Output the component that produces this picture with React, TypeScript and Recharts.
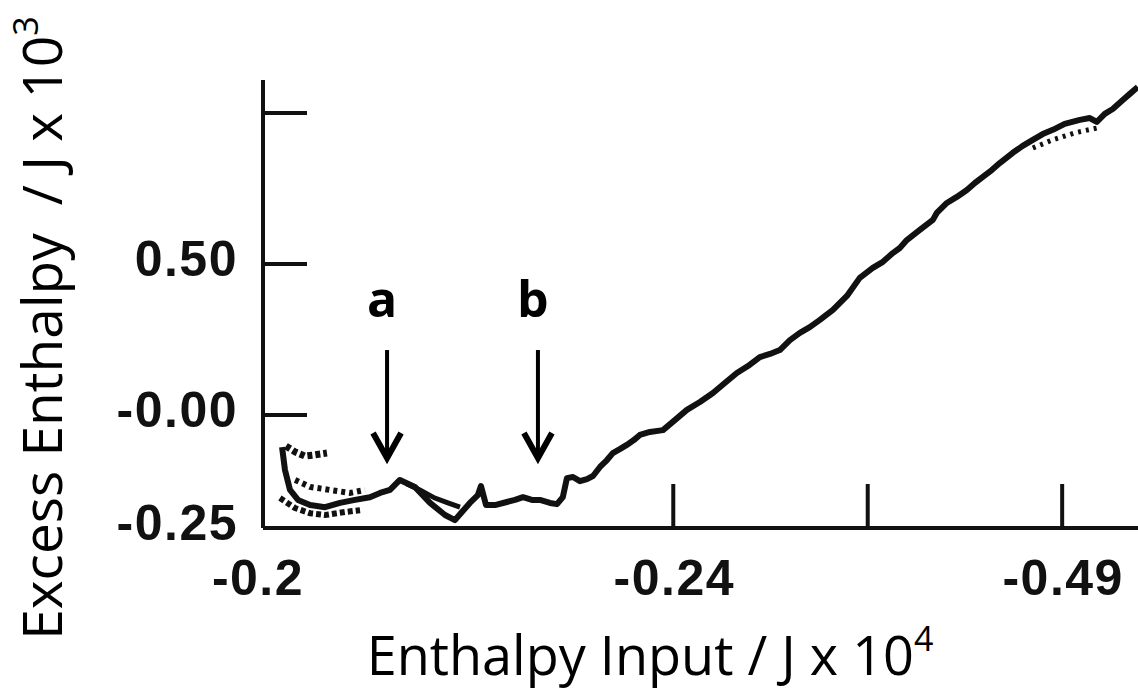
import React from 'react';
import { LineChart, Line, XAxis, YAxis, ReferenceDot, Label } from 'recharts';

// x in tick-spacing units (origin = "-0.2"), y in J x 10^3 (0 = "-0.00", 0.5 = "0.50")
const X_TICKS = [0, 2.11, 3.11, 4.11];
const X_TICK_LABELS = ['-0.2', '-0.24', '', '-0.49'];
const Y_TICKS = [-0.374, 0, 0.5, 1.0];
const Y_TICK_LABELS = ['-0.25', '-0.00', '0.50', ''];

const MAIN_TRACE: [number, number][] = [
  [0.098, -0.106], [0.113, -0.182], [0.139, -0.248], [0.18, -0.281], [0.242, -0.298],
  [0.319, -0.305], [0.396, -0.291], [0.473, -0.281], [0.55, -0.272], [0.602, -0.258],
  [0.653, -0.248], [0.704, -0.215], [0.781, -0.238], [0.859, -0.291], [0.936, -0.331],
  [0.987, -0.348], [1.023, -0.321], [1.064, -0.291], [1.105, -0.265], [1.121, -0.235],
  [1.147, -0.298], [1.193, -0.298], [1.254, -0.288], [1.296, -0.281], [1.337, -0.272],
  [1.383, -0.281], [1.424, -0.281], [1.476, -0.291], [1.512, -0.295], [1.542, -0.272],
  [1.563, -0.209], [1.594, -0.205], [1.63, -0.219], [1.666, -0.212], [1.697, -0.202],
  [1.733, -0.172], [1.769, -0.149], [1.799, -0.126], [1.835, -0.113], [1.871, -0.099],
  [1.907, -0.083], [1.938, -0.066], [1.99, -0.056], [2.057, -0.05], [2.118, -0.017],
  [2.18, 0.017], [2.247, 0.043], [2.314, 0.073], [2.375, 0.106], [2.437, 0.139],
  [2.494, 0.162], [2.555, 0.192], [2.607, 0.202], [2.658, 0.215], [2.71, 0.248],
  [2.761, 0.272], [2.812, 0.291], [2.864, 0.315], [2.931, 0.348], [3.003, 0.394],
  [3.069, 0.454], [3.136, 0.487], [3.188, 0.507], [3.239, 0.536], [3.275, 0.553],
  [3.311, 0.579], [3.378, 0.613], [3.445, 0.646], [3.465, 0.669], [3.517, 0.702],
  [3.568, 0.722], [3.62, 0.745], [3.661, 0.768], [3.702, 0.788], [3.748, 0.811],
  [3.789, 0.834], [3.856, 0.868], [3.907, 0.891], [3.959, 0.911], [4.01, 0.93],
  [4.062, 0.944], [4.123, 0.964], [4.201, 0.977], [4.252, 0.983], [4.288, 0.97],
  [4.329, 0.997], [4.37, 1.013], [4.422, 1.043], [4.458, 1.063], [4.499, 1.086],
];

// scattered side traces of the recorder pen
const UPPER_SCATTER: [number, number][] = [
  [0.118, -0.103], [0.165, -0.122], [0.216, -0.136], [0.267, -0.132], [0.329, -0.126],
];
const MIDDLE_SCATTER: [number, number][] = [
  [0.165, -0.215], [0.242, -0.238], [0.344, -0.248], [0.447, -0.258], [0.524, -0.248],
];
const LOWER_SCATTER: [number, number][] = [
  [0.087, -0.275], [0.165, -0.308], [0.242, -0.325], [0.319, -0.331], [0.422, -0.321], [0.499, -0.315],
];
const PARALLEL_DROP: [number, number][] = [
  [0.74, -0.228], [0.807, -0.248], [0.884, -0.275], [0.951, -0.291], [1.013, -0.305],
];
const TOP_SCATTER: [number, number][] = [
  [3.959, 0.884], [4.062, 0.911], [4.175, 0.934], [4.288, 0.95],
];

const ANNOTATIONS = [
  { label: 'a', x: 0.638, y: -0.149 },
  { label: 'b', x: 1.414, y: -0.149 },
];

const toPoints = (arr: [number, number][]) => arr.map(([x, y]) => ({ x, y }));

const W = 1138;
const H = 692;
const PLOT_LEFT = 263;
const PLOT_TOP = 80;
const PLOT_BOTTOM = 528;
const INK = '#111';
const TICK_FONT = '"Liberation Sans", Arial, Helvetica, sans-serif';
const TITLE_FONT = '"Open Sans", "Noto Sans", sans-serif';

const findIdx = (ticks: number[], v: number) => ticks.findIndex((t) => Math.abs(t - v) < 1e-6);

const XTick = (props: any) => {
  const { x, payload } = props;
  const i = findIdx(X_TICKS, payload.value);
  return (
    <g>
      {i > 0 && <line x1={x} x2={x} y1={PLOT_BOTTOM} y2={PLOT_BOTTOM - 44} stroke={INK} strokeWidth={4} />}
      <text x={i === 0 ? x - 5 : x + 1} y={578} textAnchor="middle" dominantBaseline="central"
        fontFamily={TICK_FONT} fontWeight={700} fontSize={50} letterSpacing={1.5} fill={INK}>
        {X_TICK_LABELS[i]}
      </text>
    </g>
  );
};

const YTick = (props: any) => {
  const { y, payload } = props;
  const i = findIdx(Y_TICKS, payload.value);
  return (
    <g>
      {i > 0 && <line x1={PLOT_LEFT} x2={PLOT_LEFT + 44} y1={y} y2={y} stroke={INK} strokeWidth={4} />}
      <text x={238} y={y - 5} textAnchor="end" dominantBaseline="central"
        fontFamily={TICK_FONT} fontWeight={700} fontSize={50} letterSpacing={1.5} fill={INK}>
        {Y_TICK_LABELS[i]}
      </text>
    </g>
  );
};

const arrowShape = (label: string) => (p: any) => {
  const { cx, cy } = p;
  return (
    <g>
      <line x1={cx} x2={cx} y1={cy - 110} y2={cy - 3} stroke="#000" strokeWidth={4} />
      <polyline points={`${cx - 14},${cy - 27} ${cx},${cy - 2} ${cx + 14},${cy - 27}`}
        fill="none" stroke="#000" strokeWidth={6} />
      <text x={cx - 5} y={cy - 143} textAnchor="middle" fontFamily={TITLE_FONT}
        fontWeight={700} fontSize={50} fill="#000">
        {label}
      </text>
    </g>
  );
};

export default function App() {
  return (
    <div style={{ position: 'absolute', left: 0, top: 0, width: W, height: H, background: '#fff' }}>
      <LineChart width={W} height={H} margin={{ top: PLOT_TOP, right: 0, bottom: 0, left: 0 }}>
        <XAxis type="number" dataKey="x" domain={[0, 4.5]} ticks={X_TICKS} allowDataOverflow
          height={H - PLOT_BOTTOM} axisLine={{ stroke: INK, strokeWidth: 4 }} tickLine={false}
          tick={<XTick />} interval={0}>
          <Label content={() => (
            <text x={650} y={675} textAnchor="middle" fontFamily={TITLE_FONT} fontSize={54} fill="#000">
              Enthalpy Input / J x 10<tspan fontSize={34} dy={-24}>4</tspan>
            </text>
          )} />
        </XAxis>
        <YAxis type="number" dataKey="y" domain={[-0.374, 1.109]} ticks={Y_TICKS} allowDataOverflow
          width={PLOT_LEFT} axisLine={{ stroke: INK, strokeWidth: 4 }} tickLine={false}
          tick={<YTick />} interval={0}>
          <Label content={() => (
            <text transform={`translate(62, 328) rotate(-90)`} textAnchor="middle"
              fontFamily={TITLE_FONT} fontSize={55} fill="#000">
              Excess Enthalpy<tspan dx={28}>/ J x 10</tspan><tspan fontSize={34} dy={-24}>3</tspan>
            </text>
          )} />
        </YAxis>
        <Line data={toPoints(LOWER_SCATTER)} dataKey="y" stroke={INK} strokeWidth={6}
          strokeDasharray="5 3" dot={false} isAnimationActive={false} />
        <Line data={toPoints(MIDDLE_SCATTER)} dataKey="y" stroke={INK} strokeWidth={6}
          strokeDasharray="4 4" dot={false} isAnimationActive={false} />
        <Line data={toPoints(UPPER_SCATTER)} dataKey="y" stroke={INK} strokeWidth={7}
          strokeDasharray="5 3" dot={false} isAnimationActive={false} />
        <Line data={toPoints(PARALLEL_DROP)} dataKey="y" stroke={INK} strokeWidth={5}
          dot={false} isAnimationActive={false} />
        <Line data={toPoints(TOP_SCATTER)} dataKey="y" stroke={INK} strokeWidth={5}
          strokeDasharray="3 5" dot={false} isAnimationActive={false} />
        <Line data={toPoints(MAIN_TRACE)} dataKey="y" stroke={INK} strokeWidth={6}
          strokeLinejoin="round" dot={false} isAnimationActive={false} />
        {ANNOTATIONS.map((a) => (
          <ReferenceDot key={a.label} x={a.x} y={a.y} r={0} shape={arrowShape(a.label)} />
        ))}
      </LineChart>
    </div>
  );
}
